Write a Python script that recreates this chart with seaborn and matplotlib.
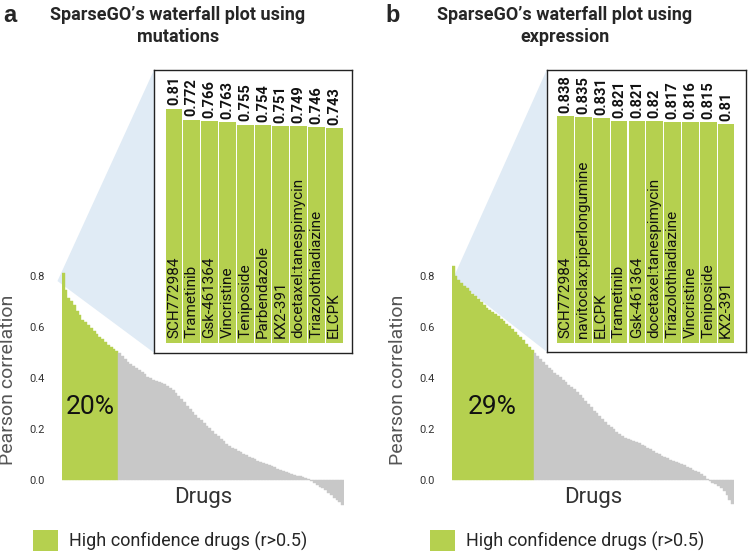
import numpy as np
import pandas as pd
import matplotlib
matplotlib.use('Agg')
import matplotlib.pyplot as plt
import seaborn as sns
from matplotlib.patches import Polygon, Patch

GREEN = '#b5d04f'
GREY = '#c8c8c8'
BLUE = '#e0ebf5'

# top 10 drugs (insets)
mut_top_drugs = ['SCH772984', 'Trametinib', 'Gsk-461364', 'Vincristine', 'Teniposide',
                 'Parbendazole', 'KX2-391', 'docetaxel:tanespimycin', 'Triazolothiadiazine', 'ELCPK']
mut_top_r = [0.81, 0.772, 0.766, 0.763, 0.755, 0.754, 0.751, 0.749, 0.746, 0.743]

expr_top_drugs = ['SCH772984', 'navitoclax:piperlongumine', 'ELCPK', 'Trametinib', 'Gsk-461364',
                  'docetaxel:tanespimycin', 'Triazolothiadiazine', 'Vincristine', 'Teniposide', 'KX2-391']
expr_top_r = [0.838, 0.835, 0.831, 0.821, 0.821, 0.82, 0.817, 0.816, 0.815, 0.81]

# sorted per-drug correlations
mut_waterfall = [
    0.81, 0.745, 0.715, 0.70, 0.685, 0.663, 0.645, 0.629, 0.618, 0.607,
    0.596, 0.585, 0.573, 0.562, 0.551, 0.540, 0.531, 0.522, 0.514, 0.506,
    0.498, 0.486, 0.475, 0.464, 0.455, 0.447, 0.439, 0.431, 0.422, 0.414,
    0.405, 0.398, 0.393, 0.388, 0.384, 0.380, 0.375, 0.368, 0.361, 0.353,
    0.343, 0.330, 0.317, 0.304, 0.291, 0.279, 0.267, 0.256, 0.245, 0.234,
    0.222, 0.212, 0.202, 0.192, 0.182, 0.172, 0.162, 0.152, 0.143, 0.135,
    0.127, 0.120, 0.114, 0.108, 0.102, 0.097, 0.091, 0.086, 0.081, 0.076,
    0.071, 0.067, 0.062, 0.058, 0.054, 0.049, 0.045, 0.041, 0.036, 0.032,
    0.028, 0.024, 0.021, 0.017, 0.014, 0.010, 0.006, 0.002, -0.005, -0.012,
    -0.019, -0.026, -0.032, -0.041, -0.050, -0.059, -0.069, -0.079, -0.088, -0.097,
]
expr_waterfall = [
    0.838, 0.800, 0.784, 0.772, 0.762, 0.752, 0.742, 0.731, 0.720, 0.708,
    0.696, 0.685, 0.676, 0.668, 0.660, 0.652, 0.643, 0.633, 0.623, 0.613,
    0.603, 0.592, 0.581, 0.570, 0.559, 0.547, 0.535, 0.522, 0.509, 0.498,
    0.486, 0.474, 0.462, 0.450, 0.440, 0.430, 0.421, 0.411, 0.402, 0.392,
    0.383, 0.374, 0.365, 0.356, 0.345, 0.334, 0.322, 0.310, 0.298, 0.285,
    0.272, 0.261, 0.250, 0.238, 0.227, 0.216, 0.207, 0.198, 0.189, 0.180,
    0.172, 0.166, 0.161, 0.157, 0.153, 0.149, 0.145, 0.139, 0.133, 0.126,
    0.120, 0.113, 0.107, 0.100, 0.095, 0.090, 0.085, 0.080, 0.076, 0.071,
    0.067, 0.062, 0.057, 0.051, 0.046, 0.040, 0.035, 0.030, 0.022, 0.014,
    0.005, -0.003, -0.010, -0.017, -0.023, -0.031, -0.044, -0.060, -0.077, -0.095,
]

W, H = 750, 554

sns.set_theme(style='white')
plt.rcParams['font.family'] = ['Roboto', 'DejaVu Sans']


def fx(px):
    return px / W


def fy(py):
    return 1 - py / H


def draw_panel(fig, values, top_drugs, top_r, main_left, inset_box, inset_ylim, inset_xlim,
               letter, letter_x, title, title_x, legend_x, apex):
    n = len(values)
    df = pd.DataFrame({'rank': np.arange(n), 'r': values})
    df['group'] = np.where(df['r'] > 0.5, 'high', 'low')
    n_high = int((df['group'] == 'high').sum())

    # main waterfall
    ax = fig.add_axes([fx(main_left), fy(510.6), fx(282.3), 247.4 / H])
    sns.barplot(data=df, x='rank', y='r', hue='group', palette={'high': GREEN, 'low': GREY},
                width=1.0, dodge=False, legend=False, saturation=1, linewidth=0, ax=ax)
    for p in ax.patches:
        p.set_edgecolor(p.get_facecolor())
        p.set_linewidth(0.3)
    ax.set_xlim(-0.5, n - 0.5)
    ax.set_ylim(-0.12, 0.85)
    ticks = [0.0, 0.2, 0.4, 0.6, 0.8]
    ax.set_yticks(ticks)
    ax.set_yticklabels([f'{t:.1f}' for t in ticks])
    ax.set_xticks([])
    sns.despine(ax=ax, left=True, bottom=True)
    ax.tick_params(axis='y', length=0, pad=12, labelsize=8, labelcolor='#333333')
    ax.set_xlabel('')
    ax.set_ylabel('Pearson correlation', fontsize=14, color='#555555')
    ax.yaxis.set_label_coords(-0.157, 0.53)
    ax.patch.set_alpha(0)
    ax.text((n - 1) / 2, -0.07, 'Drugs', ha='center', va='center', fontsize=16, color='#333333')
    ax.text(n_high / 2 - 0.5, 0.285, f'{round(100 * n_high / n)}%', ha='center', va='center',
            fontsize=19, color='#111111')

    # inset with top 10
    l, t, r, b = inset_box
    ax_in = fig.add_axes([fx(l), fy(b), fx(r - l), (b - t) / H])
    sns.barplot(x=top_drugs, y=top_r, color=GREEN, saturation=1, width=0.94, linewidth=0, ax=ax_in)
    ax_in.set_ylim(*inset_ylim)
    ax_in.set_xlim(*inset_xlim)
    ax_in.set_xticks([])
    ax_in.set_yticks([])
    ax_in.set_xlabel('')
    ax_in.set_ylabel('')
    ax_in.set_facecolor('white')
    for s in ax_in.spines.values():
        s.set_visible(True)
        s.set_color('#222222')
        s.set_linewidth(1.0)
    span = inset_ylim[1] - inset_ylim[0]
    for i, (name, v) in enumerate(zip(top_drugs, top_r)):
        ax_in.text(i, 0.018 * span, name, rotation=90, ha='center', va='bottom',
                   fontsize=11, color='#111111')
        ax_in.text(i, v + 0.011 * span, f'{v:g}', rotation=90, ha='center', va='bottom',
                   fontsize=10.5, fontweight='bold', color='#111111')

    # zoom wedge from the top of the waterfall to the inset
    inv = fig.transFigure.inverted()
    p0 = inv.transform(ax.transData.transform(apex))
    p1 = inv.transform(ax_in.transAxes.transform((0, 1)))
    p2 = inv.transform(ax_in.transAxes.transform((0, 0)))
    fig.add_artist(Polygon([p0, p1, p2], closed=True, transform=fig.transFigure,
                           facecolor=BLUE, edgecolor='none', zorder=-1))

    # titles
    fig.text(fx(letter_x), fy(16), letter, fontsize=17, fontweight='bold', ha='left', va='center',
             family=['Liberation Sans', 'DejaVu Sans'])
    fig.text(fx(title_x), fy(26), title, fontsize=13, fontweight='bold', ha='center', va='center',
             multialignment='center', linespacing=1.25)

    fig.legend(handles=[Patch(facecolor=GREEN, edgecolor='none')],
               labels=['High confidence drugs (r>0.5)'], loc='center left',
               bbox_to_anchor=(fx(legend_x), fy(540.5)), frameon=False, fontsize=13,
               handlelength=1.39, handleheight=1.39, handletextpad=0.6,
               borderpad=0, borderaxespad=0)


fig = plt.figure(figsize=(W / 100, H / 100), dpi=100)

draw_panel(fig, mut_waterfall, mut_top_drugs, mut_top_r,
           main_left=61.7, inset_box=(154, 70, 351.7, 352.7),
           inset_ylim=(-0.032, 0.943), inset_xlim=(-1.12, 9.98),
           letter='a', letter_x=3,
           title='SparseGO\u2019s waterfall plot using\nmutations', title_x=178,
           legend_x=33, apex=(-2.0, 0.78))

draw_panel(fig, expr_waterfall, expr_top_drugs, expr_top_r,
           main_left=451.7, inset_box=(546.7, 70, 746, 351.7),
           inset_ylim=(-0.031, 1.008), inset_xlim=(-1.06, 10.12),
           letter='b', letter_x=385,
           title='SparseGO\u2019s waterfall plot using\nexpression', title_x=565,
           legend_x=430, apex=(0.0, 0.79))

fig.savefig('out.png', dpi=100)
